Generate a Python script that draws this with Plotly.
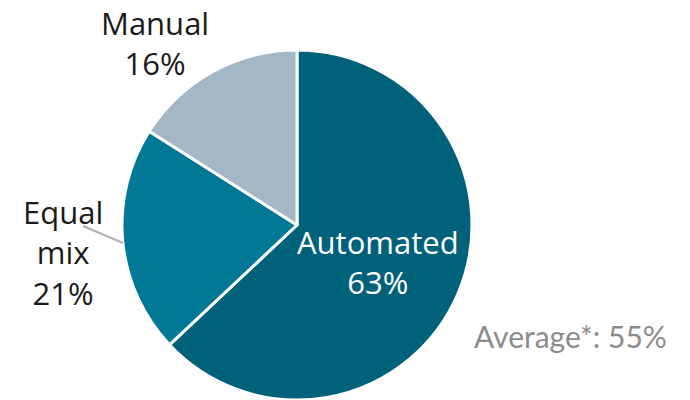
import plotly.graph_objects as go

# Share of work by approach
categories = ["Automated", "Equal mix", "Manual"]
shares = [63, 21, 16]
colors = ["#00617B", "#007896", "#A3B8C4"]
average_note = "Average*: 55%"

W, H = 690, 400


def px(x):
    return x / W


def py(y):
    return 1 - y / H


fig = go.Figure(
    go.Pie(
        labels=categories,
        values=shares,
        sort=False,
        direction="clockwise",
        rotation=0,
        marker=dict(colors=colors, line=dict(color="white", width=3)),
        textinfo="none",
        hoverinfo="label+percent",
        domain=dict(x=[px(122), px(472)], y=[0, py(50)]),
        showlegend=False,
    )
)

FONT = "Open Sans"
label_font = dict(family=FONT, size=31, color="#1a1a1a")


def label(x, y, text, font):
    fig.add_annotation(
        x=px(x), y=py(y), xref="paper", yref="paper",
        xanchor="center", yanchor="middle",
        text=text, showarrow=False, font=font, align="center",
    )


# Slice labels
label(155, 43, f"{categories[2]}<br>{shares[2]}%", label_font)
label(63, 253, "Equal<br>mix<br>" + f"{shares[1]}%", label_font)
label(378, 262, f"{categories[0]}<br>{shares[0]}%",
      dict(family=FONT, size=31, color="white"))

# Leader line for the "Equal mix" label
fig.add_shape(
    type="line", xref="paper", yref="paper",
    x0=px(83), y0=py(226), x1=px(123), y1=py(243),
    line=dict(color="#b0b0b0", width=2),
)

label(570, 336, average_note, dict(family="Lato", size=30, color="#8c8c8c"))

fig.update_layout(
    width=W, height=H,
    margin=dict(l=0, r=0, t=0, b=0),
    paper_bgcolor="white", plot_bgcolor="white",
)

fig.write_html("out.html")
